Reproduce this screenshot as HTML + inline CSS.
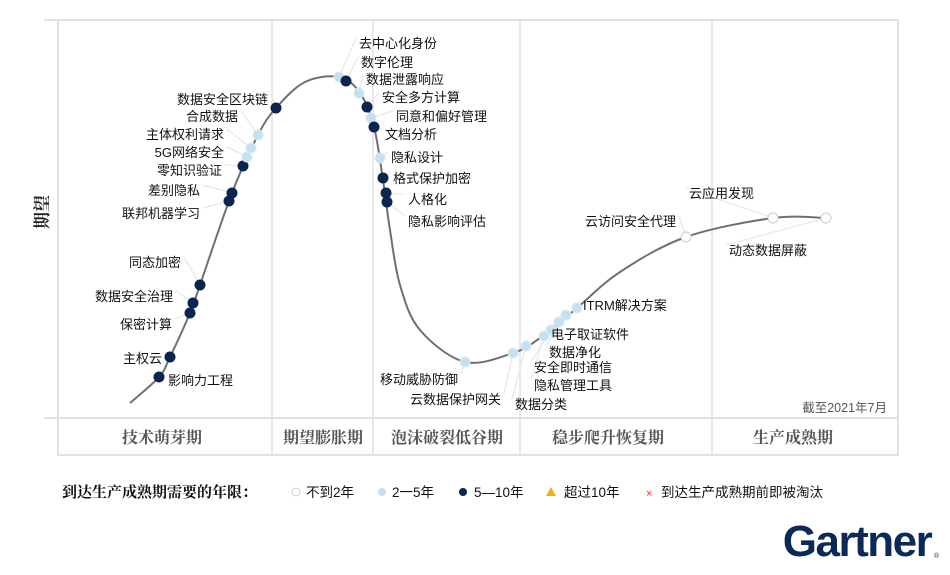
<!DOCTYPE html>
<html><head><meta charset="utf-8">
<style>
body{margin:0;background:#fff;width:950px;height:575px;overflow:hidden;font-family:"Liberation Sans","Noto Sans CJK SC",sans-serif;}
svg{display:block}
</style></head>
<body>
<svg id="c" width="950" height="575" xmlns="http://www.w3.org/2000/svg">
  <g>
    <rect x="58" y="20" width="840" height="435" fill="none" stroke="#e2e2e2" stroke-width="2"/>
    <line x1="58" y1="418" x2="898" y2="418" stroke="#e2e2e2" stroke-width="2"/>
    <line x1="44" y1="20" x2="58" y2="20" stroke="#e2e2e2" stroke-width="2"/>
    <line x1="44" y1="418" x2="58" y2="418" stroke="#e2e2e2" stroke-width="2"/>
  </g>
  <g id="dividers"></g>
  <g id="phases"></g>
  <text x="0" y="0" transform="translate(48,212) rotate(-90)" text-anchor="middle" font-family="'Liberation Serif','Noto Serif CJK SC',serif" font-weight="bold" font-size="17" fill="#222">期望</text>
  <path id="curve" fill="none" stroke="#707070" stroke-width="2"/>
  <g id="leaders"></g>
  <g id="marks"></g>
  <g id="labels"></g>
  <text x="887" y="412" text-anchor="end" font-size="12.5" fill="#555">截至2021年7月</text>
  <g font-size="13.5" fill="#111">
    <text x="62" y="497" font-weight="bold" font-size="15" font-family="'Liberation Serif','Noto Serif CJK SC',serif">到达生产成熟期需要的年限：</text>
    <g><circle cx="296" cy="492" r="4" fill="#fff" stroke="#ccc"/><text x="306" y="497">不到2年</text></g>
    <g><circle cx="382" cy="492" r="4" fill="#c5e0ef"/><text x="392" y="497">2一5年</text></g>
    <g><circle cx="463" cy="492" r="4" fill="#0b2450"/><text x="474" y="497">5—10年</text></g>
    <g><polygon points="551,487 556,496 546,496" fill="#e8b31c"/><text x="564" y="497">超过10年</text></g>
    <g><text x="646" y="497" fill="#d33" font-size="11">×</text><text x="661" y="497">到达生产成熟期前即被淘汰</text></g>
  </g>
  <text x="857" y="556" text-anchor="middle" font-size="44" font-weight="bold" fill="#0b2a58" letter-spacing="-1.5">Gartner</text>
  <text x="934" y="558" font-size="7" fill="#0b2a58">®</text>
</svg>
<script>
const dividerX = [272, 373, 520, 712];
const phaseNames = ["技术萌芽期","期望膨胀期","泡沫破裂低谷期","稳步爬升恢复期","生产成熟期"];
const phaseCenters = [162, 323, 447, 608, 793];
const curveX = [130,159,170,190,200,232,258,276,305,339,360,374,383,390,400,420,465,513,540,577,620,686,773,826];
const curveY = [403,377,357,313,285,193,135,108,82,77,93,127,180,230,285,330,362,353,338,308,272,237,218,218];
const techNames = ["影响力工程","主权云","保密计算","数据安全治理","同态加密","联邦机器学习","差别隐私","零知识验证","5G网络安全","主体权利请求","合成数据","数据安全区块链","去中心化身份","数字伦理","数据泄露响应","安全多方计算","同意和偏好管理","文档分析","隐私设计","格式保护加密","人格化","隐私影响评估","移动威胁防御","云数据保护网关","数据分类","隐私管理工具","安全即时通信","数据净化","电子取证软件","ITRM解决方案","云访问安全代理","云应用发现","动态数据屏蔽"];
const techX = [159,170,190,193,200,229,232,243,247,251,258,276,339,346,359,367,371,374,380,383,386,387,465,513,526,544,551,559,566,577,686,773,826];
const techY = [377,357,313,303,285,201,193,166,157,148,135,108,77,81,93,107,118,127,158,178,193,202,362,353,346,336,330,322,315,308,237,218,218];
const techYears = [3,3,3,3,3,3,3,3,2,2,2,3,2,3,2,3,2,3,2,3,3,3,2,2,2,2,2,2,2,2,1,1,1];
const labelX = [168,162,172,173,181,200,200,222,224,224,238,268,359,361,366,382,396,385,391,393,408,408,458,501,515,534,534,549,551,583,676,689,729];
const labelY = [380,358,324,296,262,213,190,170,152,134,116,99,43,62,79,97,116,134,157,178,199,221,379,399,404,385,367,352,334,305,221,193,250];
const labelSide = ["L","R","R","R","R","R","R","R","R","R","R","R","L","L","L","L","L","L","L","L","L","L","R","R","L","L","L","L","L","L","R","L","L"];
const NS="http://www.w3.org/2000/svg";
function mk(tag,attrs,parent){const e=document.createElementNS(NS,tag);for(const k in attrs)e.setAttribute(k,attrs[k]);parent.appendChild(e);return e;}
const dv=document.getElementById('dividers');
dividerX.forEach((x,i)=>{const l=mk('line',{x1:x,y1:20,x2:x,y2:455,stroke:'#e2e2e2','stroke-width':1.5},dv);

});
const ph=document.getElementById('phases');
phaseNames.forEach((n,i)=>{const t=mk('text',{x:phaseCenters[i],y:443,'text-anchor':'middle','font-size':16,'font-weight':'bold',fill:'#555','font-family':"'Liberation Serif','Noto Serif CJK SC',serif"},ph);t.textContent=n;

});
let d=`M${curveX[0]},${curveY[0]}`;
for(let i=0;i<curveX.length-1;i++){
  const p0=[curveX[Math.max(i-1,0)],curveY[Math.max(i-1,0)]],p1=[curveX[i],curveY[i]],p2=[curveX[i+1],curveY[i+1]],p3=[curveX[Math.min(i+2,curveX.length-1)],curveY[Math.min(i+2,curveX.length-1)]];
  const c1=[p1[0]+(p2[0]-p0[0])/6,p1[1]+(p2[1]-p0[1])/6],c2=[p2[0]-(p3[0]-p1[0])/6,p2[1]-(p3[1]-p1[1])/6];
  d+=` C${c1[0]},${c1[1]} ${c2[0]},${c2[1]} ${p2[0]},${p2[1]}`;
}
document.getElementById('curve').setAttribute('d',d);
const mg=document.getElementById('marks'),lg=document.getElementById('labels'),ld=document.getElementById('leaders');
const fills={1:'#fff',2:'#c5e0ef',3:'#0b2450'},strokes={1:'#ccc',2:'#d6ebf5',3:'#0b2450'};
techNames.forEach((n,i)=>{
  const lx=labelX[i],ly=labelY[i],R=labelSide[i]==='R';
  const ex=R?lx+3:lx-3;
  const ln=mk('polyline',{points:`${techX[i]},${techY[i]} ${ex},${ly-5}`,fill:'none',stroke:'#e8e8e8','stroke-width':1.3},ld);
  
  
  const c=mk('circle',{cx:techX[i],cy:techY[i],r:5,fill:fills[techYears[i]],stroke:strokes[techYears[i]],'stroke-width':1},mg);
  
  
  const t=mk('text',{x:lx,y:ly+5,'text-anchor':R?'end':'start','font-size':13,fill:'#111'},lg);
  t.textContent=n;
  
  
});
</script>
</body></html>
